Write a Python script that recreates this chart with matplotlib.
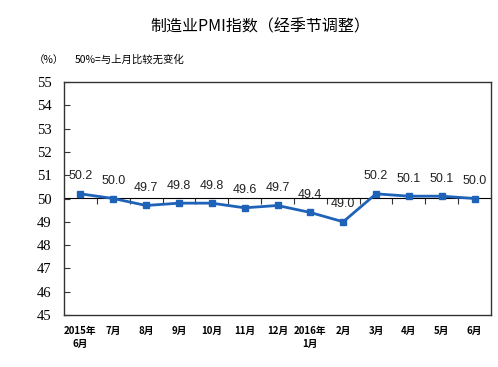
import matplotlib
matplotlib.use("Agg")
import matplotlib.pyplot as plt

months = ["2015年\n6月", "7月", "8月", "9月", "10月", "11月", "12月", "2016年\n1月",
          "2月", "3月", "4月", "5月", "6月"]
pmi = [50.2, 50.0, 49.7, 49.8, 49.8, 49.6, 49.7, 49.4, 49.0, 50.2, 50.1, 50.1, 50.0]
yticks = list(range(45, 56))

cjk = ["Noto Sans CJK SC", "DejaVu Sans"]

fig = plt.figure(figsize=(4.98, 3.67), dpi=100)
ax = fig.add_axes([64/498, 52/367, 427/498, 233/367])

x = list(range(len(pmi)))
ax.plot(x, pmi, color="#1F63B8", lw=2, marker="s", ms=4.5, zorder=3)
for xi, v in zip(x, pmi):
    ax.annotate(f"{v:.1f}", (xi, v), xytext=(0, 12.5), textcoords="offset points",
                ha="center", va="center", fontsize=9, family="Liberation Sans",
                color="#222222")

ax.set_xlim(-0.5, len(pmi) - 0.5)
ax.set_ylim(45, 55)
ax.set_yticks(yticks)
ax.set_yticklabels([str(t) for t in yticks], family="Liberation Serif", fontsize=10.5)
ax.tick_params(axis="y", direction="in", length=4, pad=9, color="#333333")
ax.set_xticks(x)
ax.set_xticklabels(months, family=cjk, fontsize=7, fontweight="bold", linespacing=1.3)
ax.tick_params(axis="x", length=0, pad=8)
for s in ax.spines.values():
    s.set_color("#333333")
    s.set_linewidth(1)

sec = ax.secondary_xaxis(0.5)
sec.set_xticks([i + 0.5 for i in range(len(pmi) - 1)])
sec.set_xticklabels([])
sec.tick_params(direction="in", length=4, color="#333333")
sec.spines["bottom"].set_color("black")
sec.spines["bottom"].set_linewidth(1)

fig.text(260/498, 1 - 27/367, "制造业PMI指数（经季节调整）", family=cjk, fontsize=11.5,
         ha="center", va="center")
fig.text(34/498, 1 - 60/367, "（%）", family=cjk, fontsize=7.5, ha="left", va="center")
fig.text(75/498, 1 - 60/367, "50%=与上月比较无变化", family=cjk, fontsize=7.5,
         ha="left", va="center")

fig.savefig("out.png", dpi=100)
